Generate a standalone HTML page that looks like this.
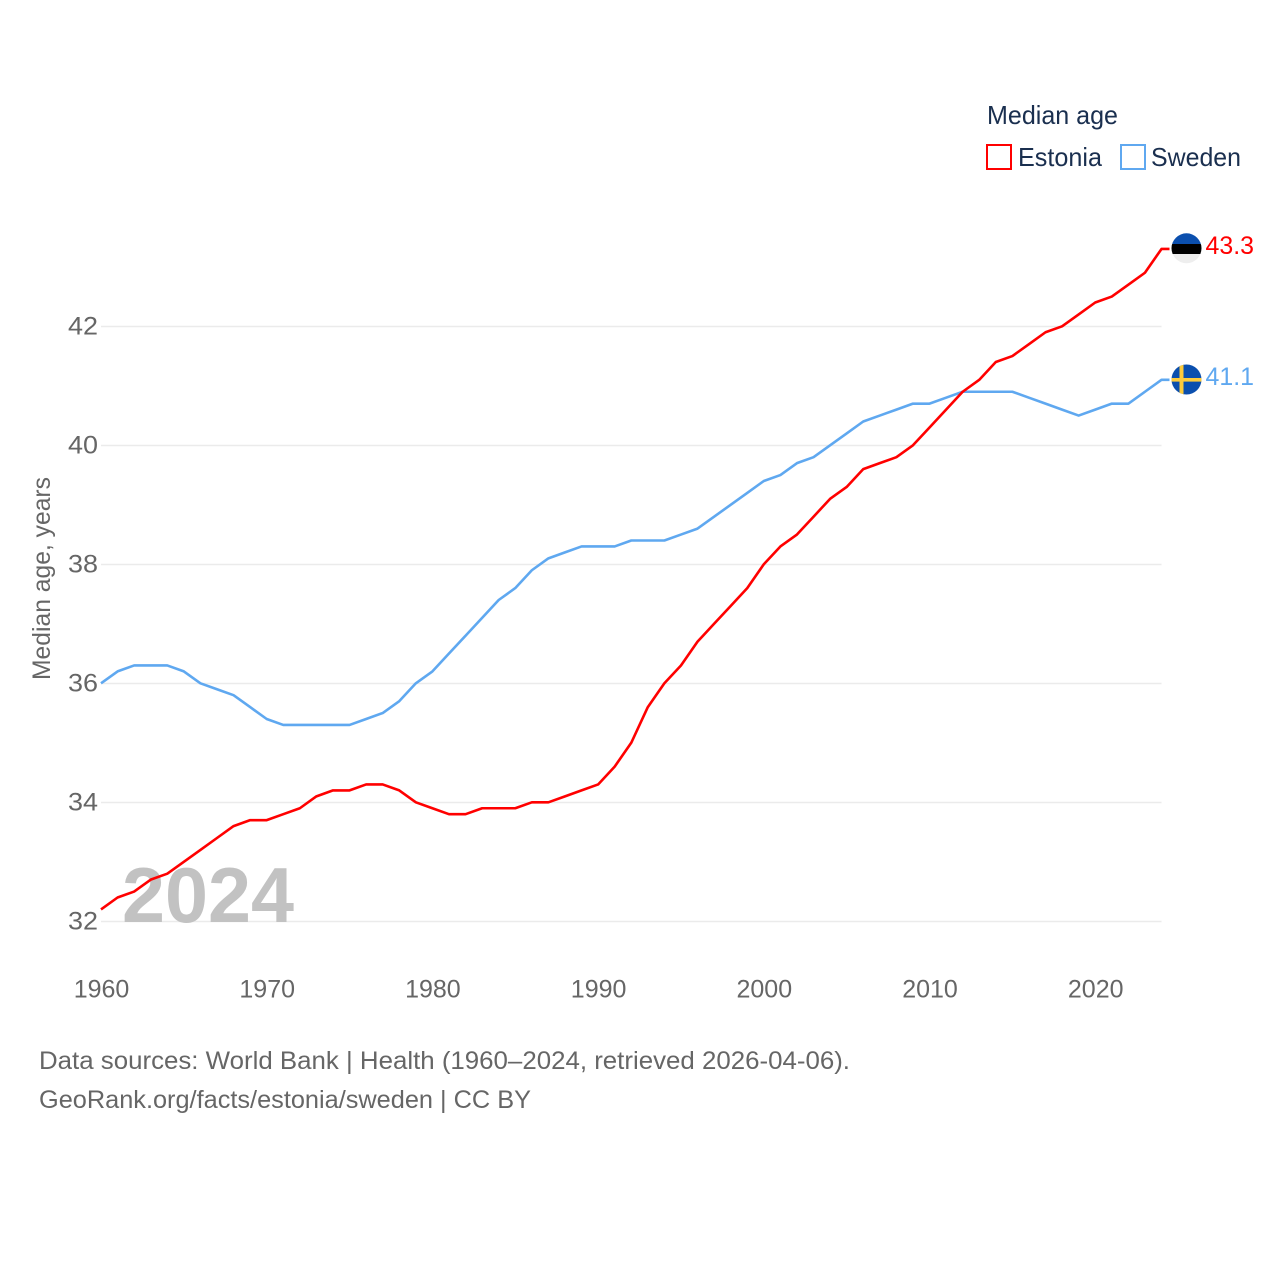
<!DOCTYPE html>
<html lang="en">
<head>
<meta charset="utf-8">
<title>Median age: Estonia and Sweden</title>
<style>
html,body{margin:0;padding:0;background:#fff;}
#chart{display:block;width:1280px;height:1280px;font-family:"Liberation Sans",sans-serif;}
</style>
</head>
<body>
<svg id="chart" xmlns="http://www.w3.org/2000/svg" width="1280" height="1280" viewBox="0 0 1280 1280">
  <rect width="1280" height="1280" fill="#ffffff"/>
  <g id="grid"></g>
  <text x="122" y="922" font-size="78" font-weight="700" fill="#c2c2c2" textLength="172" lengthAdjust="spacingAndGlyphs">2024</text>
  <g id="yticks"></g>
  <g id="xticks"></g>
  <text transform="translate(50,680) rotate(-90)" font-size="25" fill="#666666" textLength="203" lengthAdjust="spacingAndGlyphs">Median age, years</text>
  <g id="series"></g>

  <g>
    <text x="987" y="124" font-size="26" fill="#1a2f4f" textLength="131" lengthAdjust="spacingAndGlyphs">Median age</text>
    <rect x="987" y="145" width="24" height="24" fill="#ffffff" stroke="#ff0000" stroke-width="2"/>
    <text x="1018" y="166" font-size="26" fill="#1a2f4f" textLength="84" lengthAdjust="spacingAndGlyphs">Estonia</text>
    <rect x="1121" y="145" width="24" height="24" fill="#ffffff" stroke="#5fa8f0" stroke-width="2"/>
    <text x="1151" y="166" font-size="26" fill="#1a2f4f" textLength="90" lengthAdjust="spacingAndGlyphs">Sweden</text>
  </g>

  <defs>
    <clipPath id="flag-clip-ee"><circle cx="1186.5" cy="248.3" r="15"/></clipPath>
    <clipPath id="flag-clip-se"><circle cx="1186.5" cy="379.5" r="15"/></clipPath>
  </defs>
  <g clip-path="url(#flag-clip-ee)">
    <rect x="1171" y="233" width="31" height="11" fill="#0b4fae"/>
    <rect x="1171" y="244" width="31" height="10" fill="#000000"/>
    <rect x="1171" y="254" width="31" height="10" fill="#eeeeee"/>
  </g>
  <g clip-path="url(#flag-clip-se)">
    <rect x="1171" y="364" width="31" height="31" fill="#0b4fae"/>
    <rect x="1179.5" y="364" width="4" height="31" fill="#fdcb3c"/>
    <rect x="1171" y="378" width="31" height="3.6" fill="#fdcb3c"/>
  </g>
  <text x="1205.5" y="254" font-size="25" fill="#ff0000" textLength="48.5" lengthAdjust="spacingAndGlyphs">43.3</text>
  <text x="1205.5" y="385" font-size="25" fill="#5fa8f0" textLength="48.5" lengthAdjust="spacingAndGlyphs">41.1</text>

  <g>
    <text x="39" y="1069" font-size="25" fill="#666666" textLength="811" lengthAdjust="spacingAndGlyphs">Data sources: World Bank | Health (1960–2024, retrieved 2026-04-06).</text>
    <text x="39" y="1108" font-size="25" fill="#666666" textLength="492" lengthAdjust="spacingAndGlyphs">GeoRank.org/facts/estonia/sweden | CC BY</text>
  </g>
</svg>
<script>
const startYear = 1960;
const yTickValues = [32, 34, 36, 38, 40, 42];
const xTickValues = [1960, 1970, 1980, 1990, 2000, 2010, 2020];
const estoniaValues = [
  32.2, 32.4, 32.5, 32.7, 32.8, 33.0, 33.2, 33.4, 33.6, 33.7,
  33.7, 33.8, 33.9, 34.1, 34.2, 34.2, 34.3, 34.3, 34.2, 34.0,
  33.9, 33.8, 33.8, 33.9, 33.9, 33.9, 34.0, 34.0, 34.1, 34.2,
  34.3, 34.6, 35.0, 35.6, 36.0, 36.3, 36.7, 37.0, 37.3, 37.6,
  38.0, 38.3, 38.5, 38.8, 39.1, 39.3, 39.6, 39.7, 39.8, 40.0,
  40.3, 40.6, 40.9, 41.1, 41.4, 41.5, 41.7, 41.9, 42.0, 42.2,
  42.4, 42.5, 42.7, 42.9, 43.3
];
const swedenValues = [
  36.0, 36.2, 36.3, 36.3, 36.3, 36.2, 36.0, 35.9, 35.8, 35.6,
  35.4, 35.3, 35.3, 35.3, 35.3, 35.3, 35.4, 35.5, 35.7, 36.0,
  36.2, 36.5, 36.8, 37.1, 37.4, 37.6, 37.9, 38.1, 38.2, 38.3,
  38.3, 38.3, 38.4, 38.4, 38.4, 38.5, 38.6, 38.8, 39.0, 39.2,
  39.4, 39.5, 39.7, 39.8, 40.0, 40.2, 40.4, 40.5, 40.6, 40.7,
  40.7, 40.8, 40.9, 40.9, 40.9, 40.9, 40.8, 40.7, 40.6, 40.5,
  40.6, 40.7, 40.7, 40.9, 41.1
];

const SVGNS = 'http://www.w3.org/2000/svg';
function xScale(year) { return 101 + (year - 1960) * (1060.5 / 64); }
function yScale(v) { return 921.3 - (v - 32) * 59.5; }

const gridGroup = document.getElementById('grid');
const yGroup = document.getElementById('yticks');
const xGroup = document.getElementById('xticks');
const seriesGroup = document.getElementById('series');

yTickValues.forEach(function (v) {
  const line = document.createElementNS(SVGNS, 'line');
  
  
  line.setAttribute('x1', 101);
  line.setAttribute('x2', 1161.5);
  line.setAttribute('y1', yScale(v) + 0.2);
  line.setAttribute('y2', yScale(v) + 0.2);
  line.setAttribute('stroke', '#ebebeb');
  line.setAttribute('stroke-width', '1.5');
  gridGroup.appendChild(line);

  const label = document.createElementNS(SVGNS, 'text');
  
  
  label.setAttribute('x', 68);
  label.setAttribute('y', yScale(v) + 8);
  label.setAttribute('font-size', '25');
  label.setAttribute('fill', '#666666');
  label.setAttribute('textLength', '30');
  label.setAttribute('lengthAdjust', 'spacingAndGlyphs');
  label.textContent = String(v);
  yGroup.appendChild(label);
});

xTickValues.forEach(function (yr) {
  const label = document.createElementNS(SVGNS, 'text');
  
  
  label.setAttribute('x', xScale(yr) + 0.5);
  label.setAttribute('y', 997.5);
  label.setAttribute('text-anchor', 'middle');
  label.setAttribute('font-size', '25');
  label.setAttribute('fill', '#666666');
  label.textContent = String(yr);
  xGroup.appendChild(label);
});

function linePath(values) {
  const pts = values.map(function (v, i) {
    return xScale(startYear + i).toFixed(2) + ',' + yScale(v).toFixed(2);
  });
  const last = values[values.length - 1];
  pts.push((xScale(startYear + values.length - 1) + 8).toFixed(2) + ',' + yScale(last).toFixed(2));
  return 'M' + pts.join('L');
}

const swedenLine = document.createElementNS(SVGNS, 'path');


swedenLine.setAttribute('d', linePath(swedenValues));
swedenLine.setAttribute('fill', 'none');
swedenLine.setAttribute('stroke', '#5fa8f0');
swedenLine.setAttribute('stroke-width', '2.6');
swedenLine.setAttribute('stroke-linejoin', 'round');
seriesGroup.appendChild(swedenLine);

const estoniaLine = document.createElementNS(SVGNS, 'path');


estoniaLine.setAttribute('d', linePath(estoniaValues));
estoniaLine.setAttribute('fill', 'none');
estoniaLine.setAttribute('stroke', '#ff0000');
estoniaLine.setAttribute('stroke-width', '2.6');
estoniaLine.setAttribute('stroke-linejoin', 'round');
seriesGroup.appendChild(estoniaLine);
</script>
</body>
</html>
